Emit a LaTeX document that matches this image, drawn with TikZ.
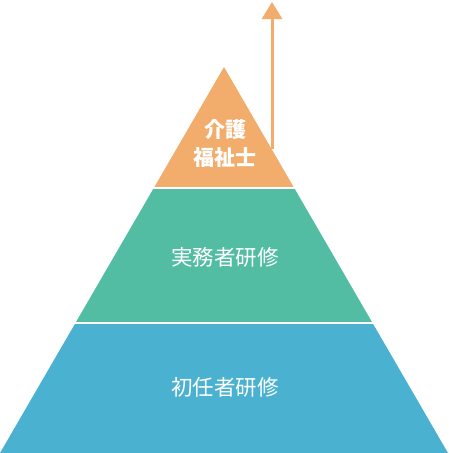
\documentclass[tikz,border=0pt]{standalone}
\usepackage{fontspec}
\newfontfamily\cjk{Noto Sans CJK JP}
\usetikzlibrary{arrows.meta}
\definecolor{kaigoorange}{HTML}{F2AC6B}
\definecolor{jitsumugreen}{HTML}{52BDA3}
\definecolor{shoninblue}{HTML}{4BB1D0}
\begin{document}
\begin{tikzpicture}[x=1pt,y=-1pt,
    tierlabel/.style={text=white, align=center, font=\cjk\fontsize{21.5}{28}\selectfont}]
    \useasboundingbox (0,0) rectangle (448,453);

    % Corners of the pyramid
    \coordinate (apex) at (224,67);
    \coordinate (baseR) at (448,453);
    \coordinate (baseL) at (0,453);

    % Tiers, cut out of one triangle
    \begin{scope}
        \clip (apex) -- (baseR) -- (baseL) -- cycle;
        \fill[kaigoorange] (0,60) rectangle (448,187); % top
        \fill[jitsumugreen] (0,189) rectangle (448,322); % middle
        \fill[shoninblue] (0,324) rectangle (448,453); % bottom
    \end{scope}

    % Upward arrow
    \coordinate (arrowfoot) at (272,149);
    \coordinate (arrowtip) at (272,2);
    \draw[kaigoorange, line width=3pt, -{Triangle[width=20pt,length=17pt]}] (arrowfoot) -- (arrowtip);

    % Labels
    \node[tierlabel, font=\cjk\bfseries\fontsize{21}{28}\selectfont] (kaigo) at (225,143) {介護\\福祉士};
    \node[tierlabel] (jitsumu) at (225,257) {実務者研修};
    \node[tierlabel] (shonin) at (225,387) {初任者研修};
\end{tikzpicture}
\end{document}
